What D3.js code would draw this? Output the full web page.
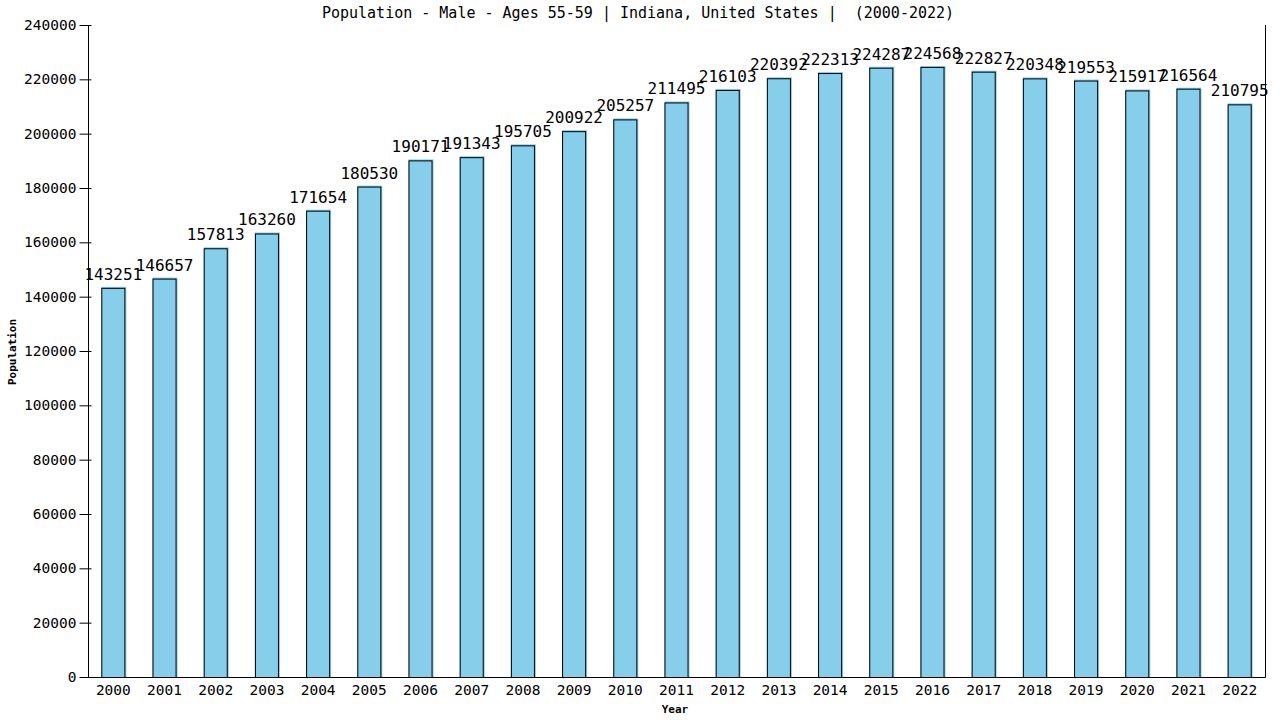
<!DOCTYPE html>
<html lang="en">
<head>
<meta charset="utf-8">
<title>Population - Male - Ages 55-59</title>
<script src="https://cdn.jsdelivr.net/npm/d3@7"></script>
<style>
  html, body { margin: 0; padding: 0; background: #fff; }
  svg text { font-family: "DejaVu Sans Mono", monospace; fill: #000; }
</style>
</head>
<body>
<script>
// values
var years = ["2000","2001","2002","2003","2004","2005","2006","2007","2008","2009","2010",
             "2011","2012","2013","2014","2015","2016","2017","2018","2019","2020","2021","2022"];
var population = [143251,146657,157813,163260,171654,180530,190171,191343,195705,200922,205257,
                  211495,216103,220392,222313,224287,224568,222827,220348,219553,215917,216564,210795];
var yTicks = [0,20000,40000,60000,80000,100000,120000,140000,160000,180000,200000,220000,240000];

var width = 1280, height = 720;
var plotLeft = 88, plotRight = 1265, plotTop = 25, plotBottom = 677;

var svg = d3.select("body").append("svg")
    .attr("width", width)
    .attr("height", height);

var x = d3.scaleBand()
    .domain(years)
    .range([plotLeft, plotRight])
    .paddingInner(0.53)
    .paddingOuter(0.26);

var y = d3.scaleLinear()
    .domain([0, 240000])
    .range([plotBottom, plotTop]);

// title (keeps the double space of the original)
svg.append("text")
    .attr("x", 638)
    .attr("y", 18)
    .attr("text-anchor", "middle")
    .style("font-size", "15px")
    .style("white-space", "pre")
    .text("Population - Male - Ages 55-59 | Indiana, United States |  (2000-2022)");

// bars: light fill then black outline, slightly offset like the original
var bars = svg.selectAll("g.bar")
    .data(population)
    .enter().append("g")
    .attr("class", "bar");

bars.append("rect")
    .attr("x", function(d, i){ return x(years[i]); })
    .attr("y", function(d){ return y(d) - 1; })
    .attr("width", x.bandwidth() + 1)
    .attr("height", function(d){ return plotBottom - y(d) + 1; })
    .attr("fill", "#87ceeb");

bars.append("rect")
    .attr("x", function(d, i){ return x(years[i]) + 0.5; })
    .attr("y", function(d){ return y(d) + 0.5; })
    .attr("width", x.bandwidth() - 1)
    .attr("height", function(d){ return plotBottom - y(d); })
    .attr("fill", "none")
    .attr("stroke", "#000")
    .attr("stroke-width", 1);

bars.append("text")
    .attr("x", function(d, i){ return x(years[i]) + x.bandwidth() / 2; })
    .attr("y", function(d){ return y(d) - 8; })
    .attr("text-anchor", "middle")
    .style("font-size", "16px")
    .text(function(d){ return d; });

// y axis
var yAxis = d3.axisLeft(y)
    .tickValues(yTicks)
    .tickSize(0)
    .tickFormat(d3.format("d"));

var gy = svg.append("g")
    .attr("transform", "translate(" + (plotLeft + 0.5) + ",0)")
    .call(yAxis);
gy.select(".domain").remove();
gy.selectAll(".tick text")
    .attr("x", -12)
    .style("font-size", "14.5px")
    .style("font-family", "'DejaVu Sans Mono', monospace");
gy.selectAll(".tick").append("line")
    .attr("x1", -9)
    .attr("x2", 3)
    .attr("stroke", "#000");

// x axis labels, no tick marks
var xAxis = d3.axisBottom(x).tickSize(0);
var gx = svg.append("g")
    .attr("transform", "translate(0," + plotBottom + ")")
    .call(xAxis);
gx.select(".domain").remove();
gx.selectAll(".tick text")
    .attr("dy", "0.71em")
    .attr("y", 8)
    .style("font-size", "14.5px")
    .style("font-family", "'DejaVu Sans Mono', monospace");

// frame: left, bottom, right
svg.append("path")
    .attr("d", "M" + (plotLeft + 0.5) + "," + plotTop + "V" + (plotBottom + 0.5) +
               "H" + (plotRight + 0.5) + "V" + plotTop)
    .attr("fill", "none")
    .attr("stroke", "#000");

// axis titles
svg.append("text")
    .attr("x", 675)
    .attr("y", 713)
    .attr("text-anchor", "middle")
    .style("font-size", "11px")
    .style("font-weight", "bold")
    .text("Year");

svg.append("text")
    .attr("transform", "translate(16,352) rotate(-90)")
    .attr("text-anchor", "middle")
    .style("font-size", "11px")
    .style("font-weight", "bold")
    .text("Population");
</script>
</body>
</html>
